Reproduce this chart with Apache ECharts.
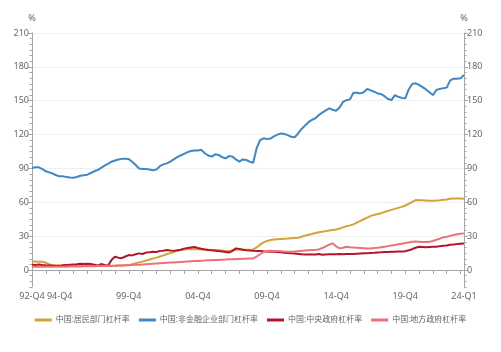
<!DOCTYPE html>
<html>
<head>
<meta charset="utf-8">
<script src="https://cdn.jsdelivr.net/npm/echarts@6/dist/echarts.min.js"></script>
<style>
html, body { margin: 0; padding: 0; background: #fff; }
#chart { width: 501px; height: 352px; }
</style>
</head>
<body>
<div id="chart"></div>
<script>
// 季度：92-Q4 ~ 24-Q1
const quarters = [];
for (let y = 1992, q = 4; y < 2024 || (y === 2024 && q <= 1); ) {
    quarters.push(String(y).slice(2) + '-Q' + q);
    q++;
    if (q > 4) { q = 1; y++; }
}
const shownLabels = ['92-Q4', '94-Q4', '99-Q4', '04-Q4', '09-Q4', '14-Q4', '19-Q4', '24-Q1'];
const yLabels = [0, 30, 60, 90, 120, 150, 180, 210];
const yMinor = [-15, -10, -5, 5, 10, 15, 20, 25, 35, 40, 45, 50, 55, 65, 70, 75, 80, 85, 95, 100, 105, 110, 115,
    125, 130, 135, 140, 145, 155, 160, 165, 170, 175, 185, 190, 195, 200, 205];

const seriesNames = ['中国:居民部门杠杆率', '中国:非金融企业部门杠杆率', '中国:中央政府杠杆率', '中国:地方政府杠杆率'];
const colors = ['#D4A23A', '#3F87C6', '#B3152C', '#EE7079'];

const household = [7.5, 7.5, 7.4, 7.3, 6.5, 5, 4.5, 4.3, 4.2, 4, 4, 3.9, 3.8, 3.8, 3.7, 3.7, 3.6, 3.6, 3.5, 3.5,
    3.5, 3.5, 3.6, 3.7, 3.8, 4, 4.1, 4.2, 4.4, 5.2, 6, 6.8, 7.5, 8.4, 9.3, 10.2, 11, 12, 13, 14,
    15, 16, 17, 17.7, 18.3, 18.5, 18.6, 18.5, 18.4, 18.3, 18.2, 18, 17.8, 17.7, 17.5, 17.3, 17, 16.8, 17.5, 18,
    18.2, 18.2, 18, 18, 18.3, 20, 22.5, 24.5, 25.8, 26.6, 27, 27.3, 27.5, 27.7, 27.9, 28.2, 28.4, 28.6, 29.5, 30.5,
    31.3, 32, 32.8, 33.5, 34, 34.5, 35, 35.5, 36, 36.8, 37.8, 38.8, 39.6, 40.5, 42, 43.5, 45, 46.5, 48, 48.8,
    49.6, 50.4, 51.5, 52.4, 53.3, 54.2, 55.1, 56, 57.2, 58.6, 60.3, 62, 61.9, 61.8, 61.7, 61.5, 61.4, 61.6, 61.9, 62.3,
    62.6, 63.2, 63.5, 63.5, 63.4, 63.2];

const corporate = [90.5, 91, 91, 89.5, 87.5, 86.5, 85.5, 84, 83, 83, 82.5, 82, 81.8, 82.5, 83.5, 84, 84.5, 86, 87.5, 88.6,
    90.5, 92.5, 94, 96, 97, 98, 98.5, 98.5, 98.3, 96, 93, 90, 89.5, 89.5, 89, 88.5, 89, 92, 93.6, 94.5,
    96, 98, 100, 101.5, 103, 104.5, 105.5, 106, 106, 106.5, 103.5, 101.5, 100.5, 102.5, 102, 100, 99, 101, 100.5, 98,
    96, 98, 97.5, 96, 95, 108, 115, 116.7, 116, 116.5, 118.5, 120, 121, 120.5, 119.5, 118, 117.6, 121, 125, 128,
    131, 133, 134.5, 137.3, 139.5, 141.5, 143.2, 142, 141.2, 144, 149, 150.5, 151.2, 157, 157, 156.5, 157.5, 160.4, 159.2, 158,
    156.5, 155.9, 154, 151.5, 150.6, 155, 153.5, 152.5, 152.1, 160, 164.8, 165.4, 164, 162, 160, 157.5, 155, 159.5, 160.5, 161,
    161.6, 168, 169.5, 169.5, 170, 172.8];

const central = [4.8, 4.5, 5, 4.5, 4.2, 4, 3.8, 3.6, 3.5, 4.2, 4.6, 4.8, 5, 5.2, 5.5, 5.3, 5.6, 5.3, 4.8, 4,
    5.3, 4.5, 3.8, 8.9, 11.8, 11, 10.5, 12, 13.3, 13, 14, 14.8, 14.2, 15.5, 15.8, 16.2, 16, 17, 17.2, 17.7,
    17.3, 17, 17.6, 18, 19, 19.5, 20, 20.5, 19.5, 18.8, 18.2, 17.7, 17.5, 17.2, 16.8, 16.5, 16, 15.5, 17, 19.2,
    18.6, 18, 17.6, 17.3, 17.1, 17, 16.8, 16.6, 16.5, 16.3, 16.2, 16, 15.7, 15.4, 15.1, 14.8, 14.6, 14.3, 14, 13.8,
    13.8, 13.7, 13.7, 14.2, 13.5, 13.8, 14, 14, 14.1, 14.2, 14, 14.2, 14.3, 14.2, 14.4, 14.6, 14.8, 15, 15.2, 15.3,
    15.5, 15.7, 16, 16, 16.2, 16.3, 16.4, 16.5, 16.7, 17.5, 18.5, 19.8, 20.7, 20.5, 20.2, 20.4, 20.6, 20.7, 21.2, 21.5,
    21.8, 22.5, 22.7, 23, 23.4, 23.6];

const local = [3, 3, 3, 3, 3, 3, 3, 3, 3, 3, 3, 3.1, 3.1, 3.2, 3.2, 3.3, 3.3, 3.4, 3.4, 3.5,
    3.5, 3.6, 3.7, 3.8, 3.9, 4, 4.1, 4.2, 4.3, 4.4, 4.6, 4.8, 5, 5.2, 5.4, 5.6, 5.8, 6, 6.2, 6.4,
    6.6, 6.8, 7, 7.2, 7.4, 7.6, 7.8, 8, 8.1, 8.3, 8.4, 8.6, 8.7, 8.9, 9, 9.2, 9.3, 9.5, 9.6, 9.8,
    9.9, 10, 10.1, 10.2, 10.3, 12, 14, 16, 16.8, 17.1, 17, 16.8, 16.6, 16.4, 16.3, 16.2, 16.4, 16.7, 17, 17.3,
    17.6, 17.8, 18, 18.3, 19.5, 21, 22.5, 23.6, 21, 19.2, 19.8, 20.7, 20.3, 20, 19.8, 19.6, 19.4, 19.2, 19.2, 19.5,
    19.8, 20.2, 20.7, 21.2, 21.7, 22.2, 22.8, 23.4, 24, 24.5, 25, 25.2, 25, 24.8, 24.9, 25, 25.8, 26.8, 27.8, 29,
    29.6, 30.3, 31, 31.7, 32.2, 32.5];

const seriesData = [household, corporate, central, local];

const font = '"Noto Sans", "Noto Sans CJK SC", sans-serif';
const axisGray = '#a6a6a6';

function mainAxis(pos) {
    return {
        type: 'value',
        position: pos,
        min: -15,
        max: 210,
        name: '%',
        nameLocation: 'end',
        nameGap: 10,
        nameTextStyle: { color: '#666', fontSize: 9, fontFamily: font, align: 'center' },
        axisLine: { show: true, lineStyle: { color: axisGray } },
        axisTick: { show: true, length: 4, customValues: yLabels, lineStyle: { color: axisGray } },
        axisLabel: { customValues: yLabels, color: '#666', fontSize: 9, fontFamily: font, margin: 3 },
        splitLine: { show: pos === 'left', lineStyle: { color: '#f0f0f0' } }
    };
}

function minorAxis(pos) {
    return {
        type: 'value',
        position: pos,
        min: -15,
        max: 210,
        axisLine: { show: false },
        axisTick: { show: true, length: 2.5, customValues: yMinor, lineStyle: { color: axisGray } },
        axisLabel: { show: false },
        splitLine: { show: false }
    };
}

const chart = echarts.init(document.getElementById('chart'));
chart.setOption({
    animation: false,
    color: colors,
    grid: { left: 32, right: 37, top: 33, bottom: 65 },
    legend: {
        bottom: 23,
        left: 'center',
        itemWidth: 17,
        itemHeight: 3,
        itemGap: 9,
        icon: 'rect',
        textStyle: { color: '#666', fontSize: 8, fontFamily: font, padding: [0, 0, 0, -1] },
        data: seriesNames
    },
    xAxis: {
        type: 'category',
        data: quarters,
        boundaryGap: false,
        axisLine: { lineStyle: { color: axisGray } },
        axisTick: {
            length: 4,
            interval: (i) => i % 4 === 0 || i === quarters.length - 1,
            lineStyle: { color: axisGray }
        },
        axisLabel: {
            interval: (i, v) => shownLabels.indexOf(v) >= 0,
            color: '#666',
            fontSize: 9,
            fontFamily: font,
            margin: 5,
            hideOverlap: false
        },
        splitLine: { show: false }
    },
    yAxis: [mainAxis('left'), mainAxis('right'), minorAxis('left'), minorAxis('right')],
    series: seriesNames.map((name, k) => ({
        name: name,
        type: 'line',
        yAxisIndex: 0,
        data: seriesData[k],
        symbol: 'none',
        lineStyle: { width: 2, color: colors[k] },
        itemStyle: { color: colors[k] }
    }))
});
</script>
</body>
</html>
